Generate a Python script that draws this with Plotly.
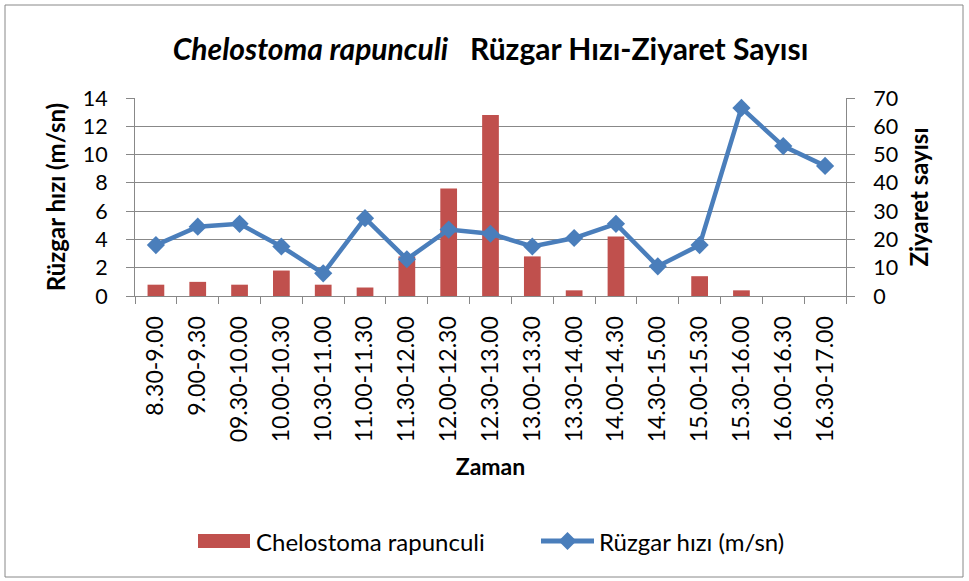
import plotly.graph_objects as go

categories = ["8.30-9.00", "9.00-9.30", "09.30-10.00", "10.00-10.30", "10.30-11.00",
              "11.00-11.30", "11.30-12.00", "12.00-12.30", "12.30-13.00", "13.00-13.30",
              "13.30-14.00", "14.00-14.30", "14.30-15.00", "15.00-15.30", "15.30-16.00",
              "16.00-16.30", "16.30-17.00"]
visits = [4, 5, 4, 9, 4, 3, 14, 38, 64, 14, 2, 21, 0, 7, 2, 0, 0]
wind = [3.6, 4.9, 5.1, 3.5, 1.6, 5.5, 2.6, 4.7, 4.4, 3.5, 4.1, 5.1, 2.1, 3.6, 13.3, 10.6, 9.2]
left_ticks = [0, 2, 4, 6, 8, 10, 12, 14]
right_ticks = [0, 10, 20, 30, 40, 50, 60, 70]

GRID = "#888888"
TXT = "#000000"
BAR = "#c0504d"
LINE = "#4a7ebb"

W, H = 969, 581
L, R, T, B = 135, 123, 98, 285
ph = H - T - B
pw = W - L - R


def px_x(px):
    return (px - L) / pw


def px_y(py):
    return (H - B - py) / ph


fig = go.Figure()
fig.add_trace(go.Bar(
    x=categories, y=visits, name="Chelostoma rapunculi",
    marker=dict(color=BAR, line=dict(width=0)),
    yaxis="y",
))
fig.add_trace(go.Scatter(
    x=categories, y=wind, name="Rüzgar hızı (m/sn)", mode="lines+markers",
    line=dict(color=LINE, width=4.5),
    marker=dict(symbol="diamond", size=14, color=LINE),
    yaxis="y2",
))

# legend drawn by hand (wide Excel-style swatches)
shapes = [
    dict(type="rect", xref="paper", yref="paper",
         x0=px_x(5), x1=px_x(963), y0=px_y(577), y1=px_y(5),
         line=dict(color=GRID, width=1), fillcolor="rgba(0,0,0,0)", layer="below"),
    dict(type="rect", xref="paper", yref="paper",
         x0=px_x(198), x1=px_x(250), y0=px_y(548), y1=px_y(534),
         line=dict(width=0), fillcolor=BAR),
    dict(type="line", xref="paper", yref="paper",
         x0=px_x(541), x1=px_x(594), y0=px_y(541), y1=px_y(541),
         line=dict(color=LINE, width=5)),
    dict(type="path", xref="paper", yref="paper",
         path="M {a},{b} L {c},{d} L {a},{e} L {f},{d} Z".format(
             a=px_x(567.5), b=px_y(532), c=px_x(576.5), d=px_y(541),
             e=px_y(550), f=px_x(558.5)),
         line=dict(width=0), fillcolor=LINE),
]
annotations = [
    dict(text="Chelostoma rapunculi", xref="paper", yref="paper",
         x=px_x(254), y=px_y(541), xanchor="left", yanchor="middle", showarrow=False,
         font=dict(family="Lato", size=24, color=TXT)),
    dict(text="Rüzgar hızı (m/sn)", xref="paper", yref="paper",
         x=px_x(597), y=px_y(541), xanchor="left", yanchor="middle", showarrow=False,
         font=dict(family="Lato", size=24, color=TXT)),
]

fig.update_layout(
    width=W, height=H,
    margin=dict(l=L, r=R, t=T, b=B, autoexpand=False),
    paper_bgcolor="white", plot_bgcolor="white",
    bargap=0.6,
    showlegend=False,
    font=dict(family="Lato", color=TXT),
    title=dict(
        text="<i>Chelostoma rapunculi</i>   Rüzgar Hızı-Ziyaret Sayısı",
        font=dict(family="Lato", size=30, weight="bold", color=TXT),
        x=0.5, xref="paper", xanchor="center", y=1 - 49 / H, yanchor="middle",
    ),
    xaxis=dict(
        type="category", tickangle=-90, range=[-0.5, len(categories) - 0.5],
        tickfont=dict(family="Lato", size=23, color=TXT),
        showline=True, linecolor=GRID, linewidth=1,
        ticks="outside", tickson="boundaries", ticklen=7, tickcolor=GRID,
        showgrid=False, ticklabelstandoff=10,
        title=dict(text="Zaman", font=dict(family="Lato", size=23, weight="bold", color=TXT),
                   standoff=17),
    ),
    yaxis=dict(
        side="right", range=[0, 70], tickvals=right_ticks,
        tickfont=dict(family="Lato", size=21.5, color=TXT),
        showline=True, linecolor=GRID, linewidth=1,
        ticks="outside", ticklen=8, tickcolor=GRID,
        showgrid=True, gridcolor=GRID, gridwidth=1,
        zeroline=False, ticklabelstandoff=14,
        title=dict(text="Ziyaret sayısı", font=dict(family="Lato", size=24, weight="bold", color=TXT),
                   standoff=13),
    ),
    yaxis2=dict(
        side="left", overlaying="y", range=[0, 14], tickvals=left_ticks,
        tickfont=dict(family="Lato", size=21.5, color=TXT),
        showline=True, linecolor=GRID, linewidth=1,
        ticks="outside", ticklen=8, tickcolor=GRID,
        showgrid=False, zeroline=False, ticklabelstandoff=14,
        title=dict(text="Rüzgar hızı (m/sn)", font=dict(family="Lato", size=24, weight="bold", color=TXT),
                   standoff=10),
    ),
    shapes=shapes,
    annotations=annotations,
)

fig.write_html(
    "out.html",
    config={"responsive": False, "displayModeBar": False},
    post_script="document.body.style.margin='0';document.body.style.overflow='hidden';",
)
